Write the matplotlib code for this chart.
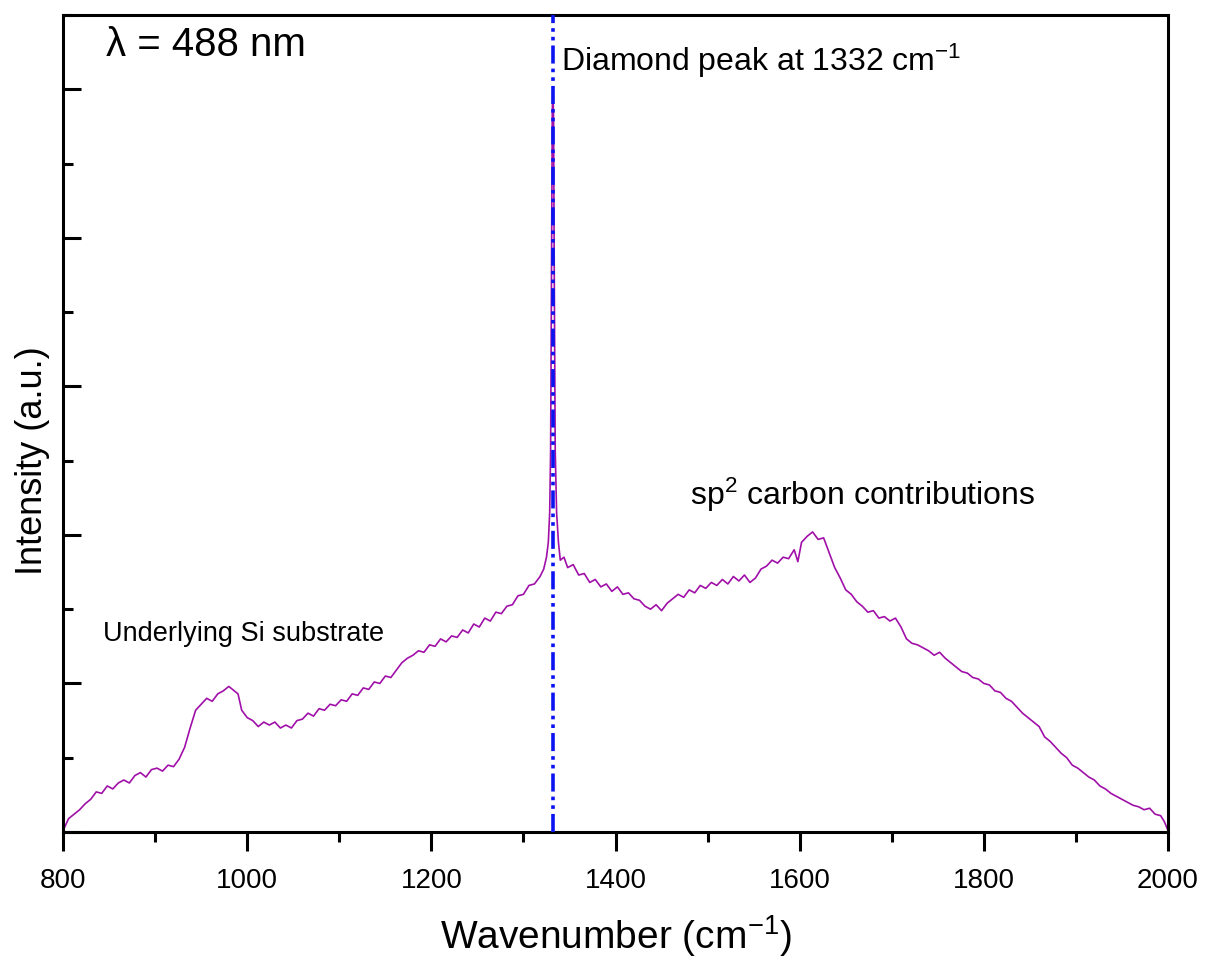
import matplotlib
matplotlib.use("Agg")
import matplotlib.pyplot as plt
from matplotlib.ticker import MultipleLocator, NullFormatter

plt.rcParams['font.family'] = ['Liberation Sans', 'DejaVu Sans']
plt.rcParams['mathtext.fontset'] = 'custom'
plt.rcParams['mathtext.rm'] = 'Liberation Sans'
plt.rcParams['mathtext.it'] = 'Liberation Sans:italic'
plt.rcParams['mathtext.bf'] = 'Liberation Sans:bold'

# Raman spectrum, intensity in arbitrary units
wavenumber = [
    800, 806, 812, 818, 824, 830, 836, 842, 848, 854, 860, 866, 872, 878, 884, 890,
    896, 902, 908, 914, 920, 926, 932, 938, 944, 950, 956, 962, 968, 974, 980, 986,
    990, 994, 1000, 1006, 1012, 1018, 1024, 1030, 1036, 1042, 1048, 1054, 1060, 1066,
    1072, 1078, 1084, 1090, 1096, 1102, 1108, 1114, 1120, 1126, 1132, 1138, 1144, 1150,
    1156, 1162, 1168, 1174, 1180, 1186, 1192, 1198, 1204, 1210, 1216, 1222, 1228, 1234,
    1240, 1246, 1252, 1258, 1264, 1270, 1276, 1282, 1288, 1294, 1300, 1306, 1312, 1318,
    1322, 1325, 1327, 1328.5, 1329.5, 1330.5, 1331.3, 1332, 1332.7, 1333.5, 1334.5, 1336,
    1338, 1340, 1344, 1348, 1354, 1360, 1366, 1372, 1378, 1384, 1390, 1396, 1402, 1408,
    1414, 1420, 1426, 1432, 1438, 1444, 1450, 1456, 1462, 1468, 1474, 1480, 1486, 1492,
    1498, 1504, 1510, 1516, 1522, 1528, 1534, 1540, 1546, 1552, 1558, 1564, 1570, 1576,
    1582, 1588, 1594, 1598, 1602, 1608, 1614, 1620, 1626, 1632, 1638, 1644, 1650, 1656,
    1662, 1668, 1674, 1680, 1686, 1692, 1698, 1704, 1710, 1716, 1722, 1728, 1734, 1740,
    1746, 1752, 1758, 1764, 1770, 1776, 1782, 1788, 1794, 1800, 1806, 1812, 1818, 1824,
    1830, 1836, 1842, 1848, 1854, 1860, 1866, 1872, 1878, 1884, 1890, 1896, 1902, 1908,
    1914, 1920, 1926, 1932, 1938, 1944, 1950, 1956, 1962, 1968, 1974, 1980, 1986, 1992,
    1996, 2000,
]
intensity = [
    0.01, 0.09, 0.12, 0.15, 0.19, 0.22, 0.27, 0.26, 0.31, 0.29, 0.33, 0.35, 0.33, 0.38, 0.40, 0.37,
    0.42, 0.43, 0.41, 0.45, 0.44, 0.49, 0.57, 0.70, 0.82, 0.86, 0.90, 0.88, 0.93, 0.95, 0.98, 0.95,
    0.93, 0.82, 0.77, 0.75, 0.71, 0.74, 0.72, 0.74, 0.70, 0.72, 0.70, 0.75, 0.76, 0.80,
    0.78, 0.83, 0.82, 0.86, 0.85, 0.89, 0.88, 0.93, 0.92, 0.97, 0.96, 1.01, 1.00, 1.05,
    1.04, 1.09, 1.14, 1.17, 1.19, 1.22, 1.21, 1.26, 1.25, 1.30, 1.28, 1.32, 1.31, 1.36,
    1.34, 1.40, 1.38, 1.44, 1.42, 1.48, 1.47, 1.52, 1.53, 1.59, 1.60, 1.66, 1.67, 1.72,
    1.77, 1.85, 1.95, 2.15, 2.57, 3.92, 4.85, 5.01, 4.80, 3.71, 2.57, 2.15,
    1.95, 1.83, 1.85, 1.78, 1.80, 1.73, 1.74, 1.68, 1.70, 1.65, 1.67, 1.62, 1.65, 1.60,
    1.61, 1.57, 1.56, 1.52, 1.50, 1.53, 1.49, 1.54, 1.57, 1.60, 1.58, 1.63, 1.61, 1.66,
    1.64, 1.68, 1.66, 1.70, 1.67, 1.72, 1.69, 1.73, 1.68, 1.71, 1.77, 1.79, 1.83, 1.81,
    1.85, 1.84, 1.90, 1.82, 1.95, 1.99, 2.02, 1.97, 1.98, 1.88, 1.78, 1.71, 1.63, 1.60,
    1.55, 1.52, 1.48, 1.49, 1.44, 1.45, 1.42, 1.44, 1.38, 1.30, 1.27, 1.26, 1.24, 1.22,
    1.19, 1.21, 1.17, 1.14, 1.11, 1.08, 1.07, 1.04, 1.03, 1.00, 0.99, 0.95, 0.94, 0.90,
    0.88, 0.84, 0.80, 0.77, 0.74, 0.71, 0.64, 0.61, 0.57, 0.53, 0.50, 0.45, 0.43, 0.40,
    0.37, 0.35, 0.31, 0.29, 0.26, 0.24, 0.22, 0.20, 0.18, 0.17, 0.15, 0.16, 0.12, 0.11,
    0.07, 0.01,
]
diamond_peak = 1332
x_ticks = [800, 1000, 1200, 1400, 1600, 1800, 2000]

fig = plt.figure(figsize=(12.08, 9.67), dpi=100)
ax = fig.add_axes([0.0522, 0.1396, 0.9147, 0.8449])

ax.plot(wavenumber, intensity, color='#A010A8', lw=1.2, zorder=2)
ax.axvline(diamond_peak, color='#0A14F0', lw=2.6, zorder=3,
           dashes=(5, 1.4, 1, 1.4, 1, 1.4))

ax.set_xlim(800, 2000)
ax.set_ylim(0, 5.5)
ax.set_xticks(x_ticks)
ax.xaxis.set_minor_locator(MultipleLocator(100))
ax.yaxis.set_major_locator(MultipleLocator(1))
ax.yaxis.set_minor_locator(MultipleLocator(0.5))
ax.yaxis.set_major_formatter(NullFormatter())
ax.tick_params(axis='x', which='major', direction='out', length=14, width=2.2,
               labelsize=20, pad=12)
ax.tick_params(axis='x', which='minor', direction='out', length=7, width=2.2)
ax.tick_params(axis='y', which='major', direction='in', length=13, width=2.2)
ax.tick_params(axis='y', which='minor', direction='in', length=7, width=2.2)
for s in ax.spines.values():
    s.set_linewidth(2.2)

ax.set_xlabel('Wavenumber (cm$^{-1}$)', fontsize=28, labelpad=14)
ax.set_ylabel('Intensity (a.u.)', fontsize=26)
ax.yaxis.set_label_coords(-0.012, 0.455)

ax.text(847, 5.30, 'λ = 488 nm', fontsize=29, va='center', ha='left')
ax.text(1341, 5.19, 'Diamond peak at 1332 cm$^{-1}$', fontsize=23, va='center', ha='left')
ax.text(1481, 2.27, 'sp$^{2}$ carbon contributions', fontsize=23, va='center', ha='left')
ax.text(843, 1.33, 'Underlying Si substrate', fontsize=19.5, va='center', ha='left')

fig.savefig('out.png', dpi=100)
